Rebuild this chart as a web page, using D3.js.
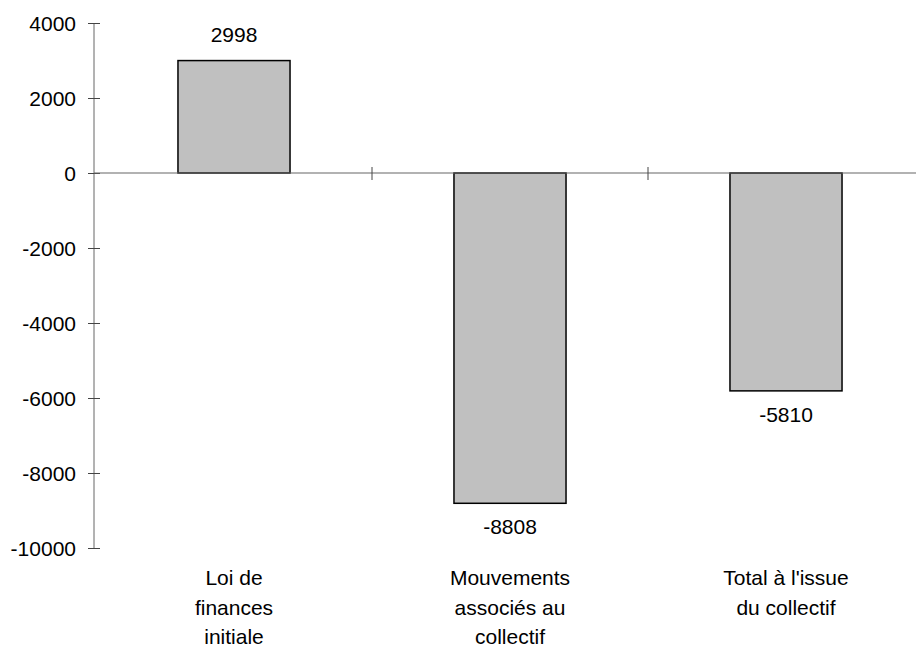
<!DOCTYPE html>
<html>
<head>
<meta charset="utf-8">
<script src="https://cdn.jsdelivr.net/npm/d3@7"></script>
<style>
  html, body { margin: 0; padding: 0; background: #fff; }
  svg { display: block; font-family: "Liberation Sans", Arial, sans-serif; }
</style>
</head>
<body>
<svg id="chart" width="916" height="649"></svg>
<script>
// Budget movements (values shown above/below each bar)
const categories = ["Loi de finances initiale", "Mouvements associés au collectif", "Total à l'issue du collectif"];
const categoryLines = [
  ["Loi de", "finances", "initiale"],
  ["Mouvements", "associés au", "collectif"],
  ["Total à l'issue", "du collectif"]
];
const values = [2998, -8808, -5810];
const yTicks = [4000, 2000, 0, -2000, -4000, -6000, -8000, -10000];

const svg = d3.select("#chart");
const fontSize = 21;

const y = d3.scaleLinear().domain([-10000, 4000]).range([548, 23]);
const x = d3.scaleBand().domain(categories).range([96, 924]).paddingInner(0.594).paddingOuter(0.297);
const axisX = 94;

// Bars
svg.append("g").selectAll("rect")
  .data(values)
  .join("rect")
  .attr("x", (d, i) => x(categories[i]))
  .attr("width", x.bandwidth())
  .attr("y", d => y(Math.max(0, d)))
  .attr("height", d => Math.abs(y(d) - y(0)))
  .attr("fill", "#c0c0c0")
  .attr("stroke", "#000")
  .attr("stroke-width", 1.5);

// Value labels
svg.append("g").selectAll("text")
  .data(values)
  .join("text")
  .attr("x", (d, i) => x(categories[i]) + x.bandwidth() / 2)
  .attr("y", d => d >= 0 ? y(d) - 19 : y(d) + 31)
  .attr("text-anchor", "middle")
  .attr("font-size", fontSize)
  .attr("fill", "#000")
  .text(d => String(d));

// Y axis
const yAxis = svg.append("g").attr("transform", `translate(${axisX},0)`)
  .call(d3.axisLeft(y).tickValues(yTicks).tickSize(6).tickPadding(12).tickFormat(d => String(d)));
yAxis.select(".domain").attr("stroke", "#666").attr("d", `M0,${y(4000)}V${y(-10000)}`);
yAxis.selectAll(".tick line").attr("stroke", "#444").attr("x1", -6).attr("x2", 6);
yAxis.selectAll(".tick text")
  .attr("font-size", fontSize)
  .attr("font-family", "Liberation Sans, Arial, sans-serif")
  .attr("fill", "#000")
  .attr("x", -18)
  .attr("dy", "0.36em");

// X axis (zero line) with ticks between categories
const xAxisG = svg.append("g");
xAxisG.append("line")
  .attr("x1", axisX).attr("x2", 916)
  .attr("y1", y(0)).attr("y2", y(0))
  .attr("stroke", "#666").attr("stroke-width", 1.2);
const step = x.step();
const boundaries = categories.slice(1).map(c => x(c) - x.paddingInner() * step / 2);
xAxisG.selectAll("line.tick")
  .data(boundaries)
  .join("line")
  .attr("class", "tick")
  .attr("x1", d => d).attr("x2", d => d)
  .attr("y1", y(0) - 6).attr("y2", y(0) + 7)
  .attr("stroke", "#444");

// Category labels
const lineBaselines = [585, 615, 644];
const labels = svg.append("g").selectAll("text")
  .data(categoryLines)
  .join("text")
  .attr("text-anchor", "middle")
  .attr("font-size", fontSize)
  .attr("fill", "#000");
labels.each(function (lines, i) {
  const cx = x(categories[i]) + x.bandwidth() / 2;
  d3.select(this).selectAll("tspan")
    .data(lines)
    .join("tspan")
    .attr("x", cx)
    .attr("y", (d, j) => lineBaselines[j])
    .text(d => d);
});
</script>
</body>
</html>
